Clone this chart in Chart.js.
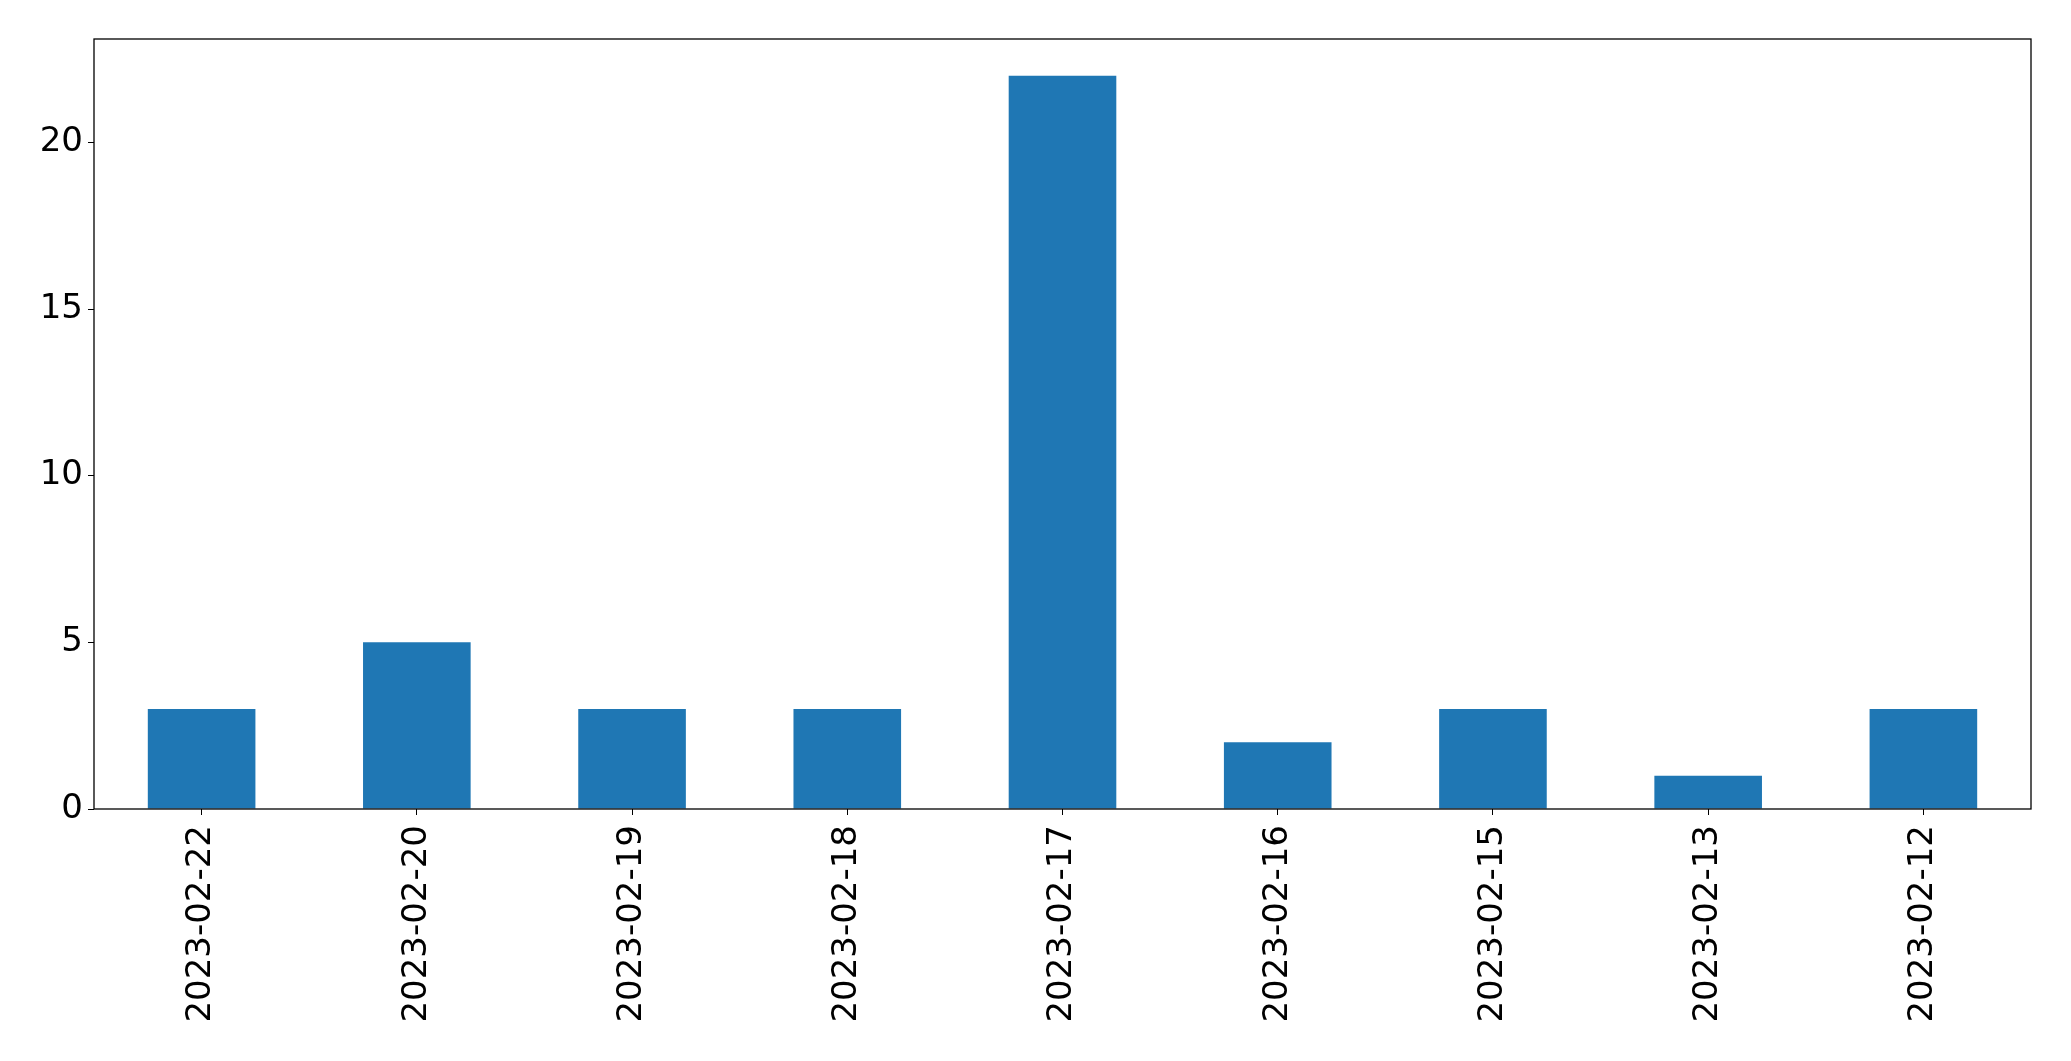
<!DOCTYPE html>
<html>
<head>
<meta charset="utf-8">
<script src="https://cdn.jsdelivr.net/npm/chart.js@4/dist/chart.umd.min.js"></script>
<style>
    html, body { margin: 0; padding: 0; background: #fff; }
    #wrap { width: 2071px; height: 1061px; }
</style>
</head>
<body>
<div id="wrap"><canvas id="chart"></canvas></div>
<script>
const dates = ["2023-02-22", "2023-02-20", "2023-02-19", "2023-02-18", "2023-02-17", "2023-02-16", "2023-02-15", "2023-02-13", "2023-02-12"];
const counts = [3, 5, 3, 3, 22, 2, 3, 1, 3];
const yMax = 23.1;

// matplotlib-style box around the plot area
const frame = {
    id: "frame",
    afterDraw(chart) {
        const { ctx, chartArea } = chart;
        ctx.save();
        ctx.strokeStyle = "#000";
        ctx.lineWidth = 1.3;
        ctx.strokeRect(chartArea.left, chartArea.top, chartArea.right - chartArea.left, chartArea.bottom - chartArea.top);
        ctx.restore();
    },
};

const font = { family: "DejaVu Sans, sans-serif", size: 34 };

new Chart(document.getElementById("chart").getContext("2d"), {
    type: "bar",
    data: {
        labels: dates,
        datasets: [
            {
                data: counts,
                backgroundColor: "#1f77b4",
                categoryPercentage: 1,
                barPercentage: 0.5,
            },
        ],
    },
    options: {
        responsive: true,
        maintainAspectRatio: false,
        animation: false,
        layout: { padding: { top: 39, right: 40, left: 0, bottom: 0 } },
        plugins: { legend: { display: false }, tooltip: { enabled: false } },
        scales: {
            x: {
                afterFit: (scale) => { scale.height = 1061 - 809; },
                grid: { display: true, offset: false, drawOnChartArea: false, drawTicks: true, tickLength: 6, color: "#000" },
                border: { display: false },
                ticks: { color: "#000", font: font, minRotation: 90, maxRotation: 90, padding: 10 },
            },
            y: {
                min: 0,
                max: yMax,
                afterFit: (scale) => { scale.width = 94; },
                grid: { display: true, drawOnChartArea: false, drawTicks: true, tickLength: 6, color: "#000" },
                border: { display: false },
                ticks: { color: "#000", font: font, stepSize: 5, includeBounds: false, padding: 5 },
            },
        },
    },
    plugins: [frame],
});
</script>
</body>
</html>
